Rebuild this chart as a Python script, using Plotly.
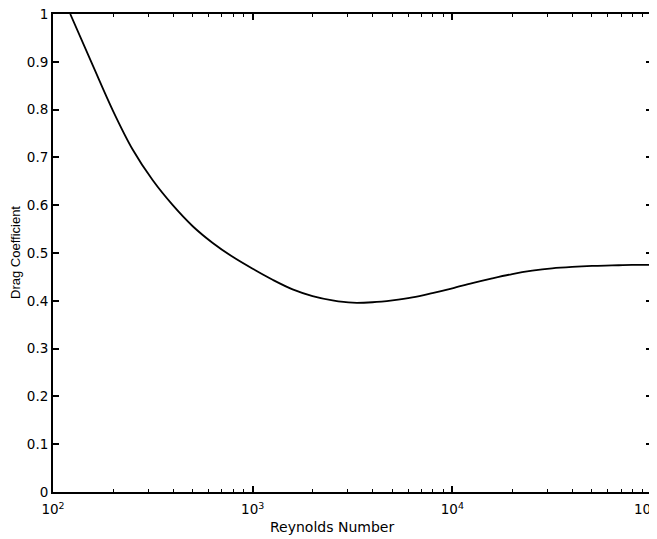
import plotly.graph_objects as go

# Data (Reynolds number vs drag coefficient)
reynolds = [122, 158, 200, 251, 316, 398, 501, 631, 794, 1000,
            1259, 1585, 1995, 2512, 3162, 3981, 5012, 6310, 7943, 10000,
            12589, 15849, 19953, 25119, 31623, 39811, 50119, 63096, 79433, 100000]
drag_coeff = [1.000, 0.893, 0.797, 0.716, 0.652, 0.600, 0.556, 0.521, 0.492, 0.467,
              0.444, 0.424, 0.410, 0.401, 0.396, 0.397, 0.401, 0.407, 0.416, 0.426,
              0.437, 0.447, 0.456, 0.463, 0.468, 0.471, 0.473, 0.474, 0.475, 0.475]

x_tickvals = [100, 1000, 10000, 100000]
x_ticktext = ["10<sup>2</sup>", "10<sup>3</sup>", "10<sup>4</sup>",
              "10<sup>5</sup>\u00a0\u00a0\u00a0"]
x_minor_vals = [200, 300, 400, 500, 600, 700, 800, 900,
                2000, 3000, 4000, 5000, 6000, 7000, 8000, 9000,
                20000, 30000, 40000, 50000, 60000, 70000, 80000, 90000]
y_tickvals = [0, 0.1, 0.2, 0.3, 0.4, 0.5, 0.6, 0.7, 0.8, 0.9, 1]
y_ticktext = ["0", "0.1", "0.2", "0.3", "0.4", "0.5", "0.6", "0.7", "0.8", "0.9", "1"]

x_title = "Reynolds Number"
y_title = "Drag Coefficient"

fig = go.Figure()
fig.add_trace(go.Scatter(
    x=reynolds, y=drag_coeff, mode="lines",
    line=dict(color="black", width=1.8, shape="spline", smoothing=1.0),
    showlegend=False,
))

tick_font = dict(family="DejaVu Sans, Liberation Sans, sans-serif", size=13.5, color="black")

# The page places the figure 8px from the top-left corner, so the figure is
# sized to fill the remaining 649x531 of the 657x539 window.
fig.update_layout(
    width=649, height=531,
    margin=dict(l=45, r=5, t=6, b=47, autoexpand=False),
    paper_bgcolor="white", plot_bgcolor="white",
    font=dict(family="DejaVu Sans, sans-serif", size=13, color="black"),
    xaxis=dict(
        type="log", range=[2, 5], automargin=False,
        tickmode="array", tickvals=x_tickvals, ticktext=x_ticktext,
        ticks="inside", ticklen=6, tickwidth=1.5, tickcolor="black",
        minor=dict(tickmode="array", tickvals=x_minor_vals, ticks="inside",
                   ticklen=3, tickwidth=1, tickcolor="black", showgrid=False),
        showline=True, linecolor="black", linewidth=2, mirror="ticks",
        showgrid=False, zeroline=False,
        ticklabeloverflow="allow", ticklabelstandoff=4,
        tickfont=tick_font,
    ),
    yaxis=dict(
        range=[0, 1], automargin=False,
        tickmode="array", tickvals=y_tickvals, ticktext=y_ticktext,
        ticks="inside", ticklen=6, tickwidth=1.5, tickcolor="black",
        showline=True, linecolor="black", linewidth=2, mirror="ticks",
        showgrid=False, zeroline=False,
        ticklabeloverflow="allow",
        tickfont=tick_font,
    ),
    annotations=[
        dict(text=x_title, xref="paper", yref="paper", x=0.465, y=0,
             yshift=-35, xanchor="center", yanchor="middle", showarrow=False,
             font=dict(family="DejaVu Sans, sans-serif", size=14, color="black")),
        dict(text=y_title, xref="paper", yref="paper", x=0, y=0.5,
             xshift=-38, xanchor="center", yanchor="middle", textangle=-90,
             showarrow=False,
             font=dict(family="Liberation Sans, Arial, sans-serif", size=13, color="black")),
    ],
)

fig.write_html("out.html")
